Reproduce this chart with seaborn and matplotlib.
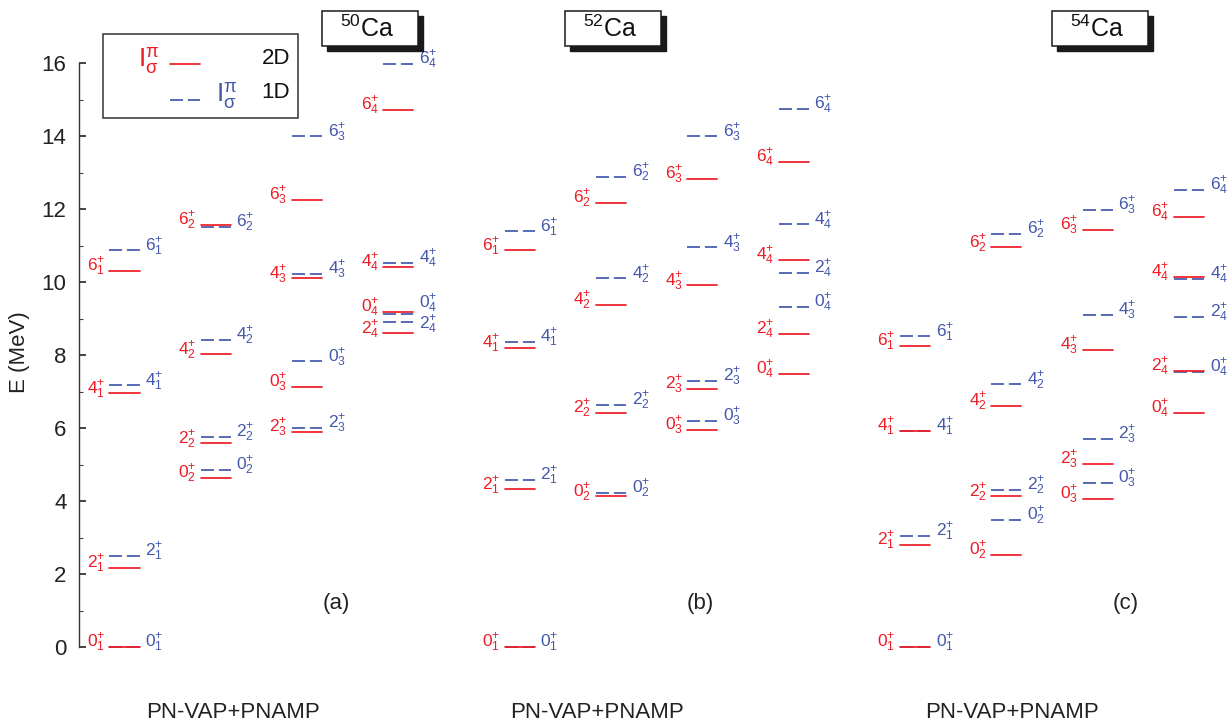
import numpy as np
import pandas as pd
import matplotlib
matplotlib.use("Agg")
import matplotlib.pyplot as plt
from matplotlib.patches import Rectangle
from matplotlib.lines import Line2D
from matplotlib.ticker import FixedLocator
import seaborn as sns

# ---- level data (MeV) ----
nuclei = ["50", "52", "54"]
panel_tags = ["(a)", "(b)", "(c)"]
spins = [0, 2, 4, 6, 0, 2, 4, 6, 0, 2, 4, 6, 0, 2, 4, 6]
sigmas = [1, 1, 1, 1, 2, 2, 2, 2, 3, 3, 3, 3, 4, 4, 4, 4]

e2d_50 = [0, 2.18, 6.95, 10.31, 4.64, 5.58, 8.02, 11.57, 7.14, 5.90, 10.10, 12.25, 9.17, 8.60, 10.41, 14.71]
e1d_50 = [0, 2.49, 7.17, 10.87, 4.85, 5.77, 8.42, 11.52, 7.83, 6.01, 10.23, 13.99, 9.13, 8.90, 10.53, 15.97]
e2d_52 = [0, 4.32, 8.19, 10.87, 4.13, 6.42, 9.38, 12.18, 5.95, 7.07, 9.91, 12.82, 7.49, 8.58, 10.61, 13.30]
e1d_52 = [0, 4.59, 8.36, 11.39, 4.22, 6.63, 10.10, 12.88, 6.20, 7.29, 10.95, 13.99, 9.33, 10.25, 11.58, 14.75]
e2d_54 = [0, 2.80, 5.92, 8.26, 2.53, 4.13, 6.61, 10.95, 4.07, 5.03, 8.14, 11.42, 6.42, 7.57, 10.14, 11.78]
e1d_54 = [0, 3.04, 5.93, 8.51, 3.49, 4.31, 7.20, 11.32, 4.50, 5.71, 9.10, 11.97, 7.55, 9.04, 10.08, 12.53]

energies = {
    ("50", "2D"): e2d_50, ("50", "1D"): e1d_50,
    ("52", "2D"): e2d_52, ("52", "1D"): e1d_52,
    ("54", "2D"): e2d_54, ("54", "1D"): e1d_54,
}

RED = "#ee1c25"
BLUE = "#4458ad"
PANEL_STEP = 4.33   # horizontal distance between nuclei, in column units
HALF = 0.165        # half width of a level bar
TAG_X = [2.32, 1.98, 2.31]      # panel tag position within each block
METHOD_X = [1.19, 0.85, 1.06]   # method caption position within each block

# ---- build a long table: every level is a two-point segment ----
rows = []
for p, nuc in enumerate(nuclei):
    for model in ["1D", "2D"]:
        for i, (J, s) in enumerate(zip(spins, sigmas)):
            xc = p * PANEL_STEP + (s - 1)
            uid = f"{nuc}-{model}-{i}"
            E = energies[(nuc, model)][i]
            for dx in (-HALF, HALF):
                rows.append(dict(x=xc + dx, E=E, model=model, uid=uid,
                                 nucleus=nuc, J=J, sigma=s, xc=xc))
df = pd.DataFrame(rows)

sns.set_theme(style="ticks")
plt.rcParams["font.family"] = ["Liberation Sans", "DejaVu Sans"]
plt.rcParams["mathtext.fontset"] = "custom"
plt.rcParams["mathtext.rm"] = "Liberation Sans"
plt.rcParams["mathtext.it"] = "Liberation Sans"
plt.rcParams["mathtext.sf"] = "Liberation Sans"
plt.rcParams["mathtext.default"] = "regular"

W, H = 1230, 723
fig = plt.figure(figsize=(W / 100, H / 100), dpi=100)
ax = fig.add_axes([79 / W, 0, 1 - 79 / W, 1])

sns.lineplot(data=df, x="x", y="E", hue="model", style="model", units="uid",
             estimator=None, sort=False, legend=False, ax=ax,
             palette={"2D": RED, "1D": BLUE},
             dashes={"2D": "", "1D": (7.5, 2.8)}, linewidth=1.25)

ax.set_xlim(-0.498, 12.11)
ax.set_ylim(-2.08, 17.73)

# ---- level labels, spread symmetrically when two of a column collide ----
def place_labels(energy_list, min_gap=0.58):
    pos = np.array(energy_list, dtype=float)
    order = list(np.argsort(pos))
    for a, b in zip(order[:-1], order[1:]):
        if pos[b] - pos[a] < min_gap:
            mid = 0.5 * (pos[a] + pos[b])
            pos[a] = mid - min_gap / 2
            pos[b] = mid + min_gap / 2
    return pos

lab_fs = 12.5
for p, nuc in enumerate(nuclei):
    for model, color, side in [("2D", RED, -1), ("1D", BLUE, 1)]:
        es = energies[(nuc, model)]
        for s in range(1, 5):
            idx = [i for i in range(len(spins)) if sigmas[i] == s]
            col_e = [es[i] for i in idx]
            ypos = place_labels(col_e)
            for i, yl in zip(idx, ypos):
                xc = p * PANEL_STEP + (s - 1)
                txt = rf"${spins[i]}^{{+}}_{{{sigmas[i]}}}$"
                if side < 0:
                    ax.annotate(txt, (xc - HALF, yl), xytext=(-3.0, 0),
                                textcoords="offset points", ha="right",
                                va="baseline", color=color, fontsize=lab_fs)
                else:
                    ax.annotate(txt, (xc + HALF, yl), xytext=(4.0, 0),
                                textcoords="offset points", ha="left",
                                va="baseline", color=color, fontsize=lab_fs)

# ---- axes styling ----
for side in ["top", "right", "bottom"]:
    ax.spines[side].set_visible(False)
ax.spines["left"].set_bounds(0, 16)
ax.spines["left"].set_color("#333333")
ax.spines["left"].set_linewidth(1.0)
ax.set_xticks([])
ax.yaxis.set_major_locator(FixedLocator(np.arange(0, 17, 2)))
ax.yaxis.set_minor_locator(FixedLocator(np.arange(1, 16, 2)))
ax.tick_params(axis="y", which="major", direction="in", length=5, width=1.2,
               labelsize=16, pad=9, color="#222222", labelcolor="#222222")
ax.tick_params(axis="y", which="minor", direction="in", length=3, width=0.8,
               color="#444444")
ax.set_xlabel("")
ax.set_ylabel("")
ax.patch.set_alpha(0)
fig.text(20 / W, 1 - 352 / H, "E (MeV)", rotation=90, ha="center",
         va="center", fontsize=16, color="#222222")

# ---- panel tags and method names ----
for p, tag in enumerate(panel_tags):
    ax.text(p * PANEL_STEP + TAG_X[p], 1.2, tag, ha="center", va="center",
            fontsize=16, color="#222222")
    ax.text(p * PANEL_STEP + METHOD_X[p], -1.78, "PN-VAP+PNAMP", ha="center",
            va="center", fontsize=16, color="#222222")

# ---- nucleus name boxes with drop shadow ----
def fx(px):
    return px / W

def fy(py):
    return 1 - py / H

box_left = [322, 565, 1052]
for nuc, bl in zip(nuclei, box_left):
    bw, bh = 96, 35
    shadow = Rectangle((fx(bl + 5), fy(11 + bh + 5)), bw / W, bh / H,
                       transform=fig.transFigure, facecolor="#1a1a1a",
                       edgecolor="#1a1a1a", lw=1, zorder=5)
    box = Rectangle((fx(bl), fy(11 + bh)), bw / W, bh / H,
                    transform=fig.transFigure, facecolor="white",
                    edgecolor="#1a1a1a", lw=1.1, zorder=6)
    fig.add_artist(shadow)
    fig.add_artist(box)
    fig.text(fx(bl + bw / 2 - 3), fy(29), rf"$^{{{nuc}}}$Ca", ha="center",
             va="center", fontsize=18, color="#111111", zorder=7)

# ---- legend block ----
leg = Rectangle((fx(103), fy(118)), 195 / W, 84 / H, transform=fig.transFigure,
                facecolor="white", edgecolor="#333333", lw=1.1, zorder=5)
fig.add_artist(leg)
fig.add_artist(Line2D([fx(170), fx(200)], [fy(64), fy(64)], color=RED,
                      lw=1.25, transform=fig.transFigure, zorder=6))
fig.add_artist(Line2D([fx(170), fx(200)], [fy(100), fy(100)], color=BLUE,
                      lw=1.25, dashes=(7.5, 2.8), transform=fig.transFigure,
                      zorder=6))
fig.text(fx(149), fy(61), r"$\mathrm{I}^{\pi}_{\sigma}$", ha="center",
         va="center", fontsize=19, color=RED, zorder=7)
fig.text(fx(227), fy(96), r"$\mathrm{I}^{\pi}_{\sigma}$", ha="center",
         va="center", fontsize=19, color=BLUE, zorder=7)
fig.text(fx(290), fy(58), "2D", ha="right", va="center", fontsize=16,
         color="#111111", zorder=7)
fig.text(fx(290), fy(93), "1D", ha="right", va="center", fontsize=16,
         color="#111111", zorder=7)

fig.savefig("out.png", dpi=100)
